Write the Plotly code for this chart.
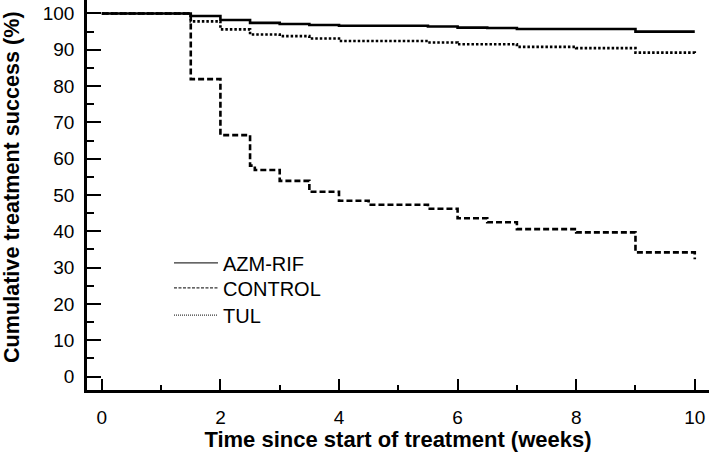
import plotly.graph_objects as go

# Kaplan-Meier style step data (weeks, cumulative treatment success %)
azm_t = [0, 1.5, 2.0, 2.5, 3.0, 3.5, 4.0, 5.5, 6.0, 6.5, 7.0, 9.0, 10.0]
azm_y = [100, 99.3, 98.2, 97.4, 97.1, 96.8, 96.6, 96.4, 96.1, 96.0, 95.7, 95.0, 95.0]

ctl_t = [0, 1.5, 2.0, 2.5, 2.58, 3.0, 3.5, 4.0, 4.5, 5.5, 6.0, 6.5, 7.0, 8.0, 9.0, 10.0]
ctl_y = [100, 81.9, 66.5, 58.1, 56.9, 53.9, 50.9, 48.4, 47.3, 46.2, 43.6, 42.5, 40.6, 39.7, 34.2, 32.3]

tul_t = [0, 1.5, 2.0, 2.5, 3.0, 3.5, 4.0, 5.5, 6.0, 7.0, 8.0, 9.0, 10.0]
tul_y = [100, 97.8, 95.6, 94.2, 93.75, 93.1, 92.4, 92.0, 91.5, 90.8, 90.45, 89.2, 88.8]

series_names = ["AZM-RIF", "CONTROL", "TUL"]
x_ticks = [0, 2, 4, 6, 8, 10]
y_ticks = [0, 10, 20, 30, 40, 50, 60, 70, 80, 90, 100]

FONT = "Liberation Sans, Arial, Helvetica, sans-serif"

fig = go.Figure()
styles = [
    (azm_t, azm_y, "solid", "solid"),
    (ctl_t, ctl_y, "6px,3px", "3px,1.5px"),
    (tul_t, tul_y, "2.5px,2px", "1px,1px"),
]
legend_ids = ["legend", "legend2", "legend3"]
legend_rows = [0.326, 0.262, 0.192]

for name, (t, y, dash, ldash) in zip(series_names, styles):
    fig.add_trace(go.Scatter(
        x=t, y=y, mode="lines", line_shape="hv", name=name,
        line=dict(color="black", width=2.6, dash=dash),
        showlegend=False, legendgroup=name, hoverinfo="skip",
    ))
for name, (t, y, dash, ldash), lid in zip(series_names, styles, legend_ids):
    fig.add_trace(go.Scatter(
        x=[None], y=[None], mode="lines", name=name,
        line=dict(color="#333333", width=1.2, dash=ldash),
        showlegend=True, legendgroup=name, legend=lid,
    ))

legend_common = dict(
    x=0.1318, xanchor="left", yanchor="middle",
    bgcolor="rgba(0,0,0,0)", borderwidth=0,
    font=dict(size=20, family=FONT, color="black"),
    itemwidth=44,
)

fig.update_layout(
    width=709, height=452,
    margin=dict(l=87, r=0, t=0, b=62, autoexpand=False),
    paper_bgcolor="white", plot_bgcolor="white",
    font=dict(family=FONT, color="black"),
    showlegend=True,
    legend=dict(y=legend_rows[0], **legend_common),
    legend2=dict(y=legend_rows[1], **legend_common),
    legend3=dict(y=legend_rows[2], **legend_common),
    xaxis=dict(
        range=[-0.25, 10.24], tickvals=x_ticks, ticktext=[str(v) for v in x_ticks],
        showgrid=False, zeroline=False, automargin=False,
        showline=True, linecolor="black", linewidth=2.5,
        ticks="inside", ticklen=11, tickwidth=1.8, tickcolor="black",
        minor=dict(ticks="inside", ticklen=5, tickwidth=1.5, tickcolor="black", dtick=1, tick0=0, showgrid=False),
        tickfont=dict(size=19, family=FONT, color="black"),
        ticklabelstandoff=8,
        title=dict(text="<b>Time since start of treatment (weeks)</b>",
                   font=dict(size=22, family=FONT, color="black"), standoff=2),
    ),
    yaxis=dict(
        range=[-3.7, 103.7], tickvals=y_ticks, ticktext=[str(v) for v in y_ticks],
        showgrid=False, zeroline=False, automargin=False,
        showline=True, linecolor="black", linewidth=2.5,
        ticks="inside", ticklen=14, tickwidth=1.8, tickcolor="black",
        minor=dict(ticks="inside", ticklen=7, tickwidth=1.5, tickcolor="black", dtick=5, tick0=0, showgrid=False),
        tickfont=dict(size=19, family=FONT, color="black"),
        ticklabelstandoff=6,
    ),
    annotations=[dict(
        text="<b>Cumulative treatment success (%)</b>",
        xref="paper", yref="paper", x=0, y=0.5, xshift=-76, yshift=8,
        xanchor="center", yanchor="middle", textangle=-90, showarrow=False,
        font=dict(size=21.6, family=FONT, color="black"),
    )],
)

fig.write_html(
    "out.html",
    config={"displayModeBar": False},
    post_script="document.body.style.margin='0';document.body.style.overflow='hidden';",
)
